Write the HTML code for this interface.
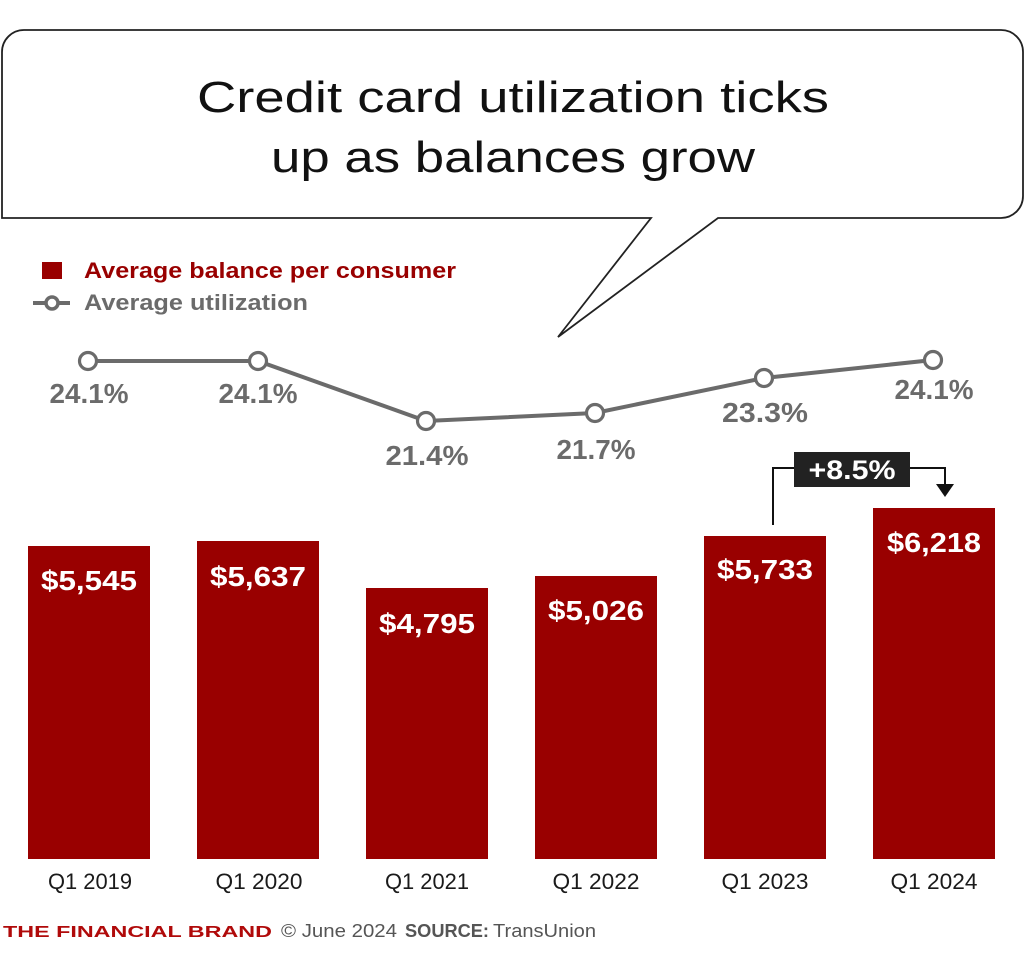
<!DOCTYPE html>
<html><head><meta charset="utf-8"><style>
html,body{margin:0;padding:0;background:#fff;}
svg{display:block;}
</style></head><body>
<svg width="1024" height="963" viewBox="0 0 1024 963" xmlns="http://www.w3.org/2000/svg" font-family="'Liberation Sans', sans-serif">
<rect width="1024" height="963" fill="#fff"/>
<!-- speech bubble -->
<path d="M24,30 H1001 A22,22 0 0 1 1023,52 V196 A22,22 0 0 1 1001,218 H718 L558,337 L651,218 H2 V52 A22,22 0 0 1 24,30 Z" fill="#fff" stroke="#222" stroke-width="1.8" stroke-linejoin="miter"/>
<text x="513" y="112" font-size="44" fill="#111" text-anchor="middle" textLength="632" lengthAdjust="spacingAndGlyphs">Credit card utilization ticks</text>
<text x="513" y="172" font-size="44" fill="#111" text-anchor="middle" textLength="484" lengthAdjust="spacingAndGlyphs">up as balances grow</text>
<!-- legend -->
<rect x="42" y="262" width="20" height="17" fill="#990000"/>
<text x="84" y="278" font-size="22" font-weight="bold" fill="#990000" textLength="372" lengthAdjust="spacingAndGlyphs">Average balance per consumer</text>
<line x1="33" y1="303" x2="70" y2="303" stroke="#6b6b6b" stroke-width="4"/>
<circle cx="52" cy="303" r="6" fill="#fff" stroke="#6b6b6b" stroke-width="3.5"/>
<text x="84" y="310" font-size="22" font-weight="bold" fill="#6b6b6b" textLength="224" lengthAdjust="spacingAndGlyphs">Average utilization</text>
<!-- bars -->
<g fill="#990000">
<rect x="28" y="546" width="122" height="313"/>
<rect x="197" y="541" width="122" height="318"/>
<rect x="366" y="588" width="122" height="271"/>
<rect x="535" y="576" width="122" height="283"/>
<rect x="704" y="536" width="122" height="323"/>
<rect x="873" y="508" width="122" height="351"/>
</g>
<g font-size="28" font-weight="bold" fill="#fff" text-anchor="middle">
<text x="89" y="590" textLength="96" lengthAdjust="spacingAndGlyphs">$5,545</text>
<text x="258" y="586" textLength="96" lengthAdjust="spacingAndGlyphs">$5,637</text>
<text x="427" y="633" textLength="96" lengthAdjust="spacingAndGlyphs">$4,795</text>
<text x="596" y="620" textLength="96" lengthAdjust="spacingAndGlyphs">$5,026</text>
<text x="765" y="579" textLength="96" lengthAdjust="spacingAndGlyphs">$5,733</text>
<text x="934" y="552" textLength="94" lengthAdjust="spacingAndGlyphs">$6,218</text>
</g>
<!-- line -->
<polyline points="88,361 258,361 426,421 595,413 764,378 933,360" fill="none" stroke="#6b6b6b" stroke-width="4"/>
<g fill="#fff" stroke="#6b6b6b" stroke-width="3.2">
<circle cx="88" cy="361" r="8.5"/>
<circle cx="258" cy="361" r="8.5"/>
<circle cx="426" cy="421" r="8.5"/>
<circle cx="595" cy="413" r="8.5"/>
<circle cx="764" cy="378" r="8.5"/>
<circle cx="933" cy="360" r="8.5"/>
</g>
<g font-size="28" font-weight="bold" fill="#6b6b6b" text-anchor="middle">
<text x="89" y="403" textLength="79" lengthAdjust="spacingAndGlyphs">24.1%</text>
<text x="258" y="403" textLength="79" lengthAdjust="spacingAndGlyphs">24.1%</text>
<text x="427" y="465" textLength="83" lengthAdjust="spacingAndGlyphs">21.4%</text>
<text x="596" y="459" textLength="79" lengthAdjust="spacingAndGlyphs">21.7%</text>
<text x="765" y="422" textLength="86" lengthAdjust="spacingAndGlyphs">23.3%</text>
<text x="934" y="399" textLength="79" lengthAdjust="spacingAndGlyphs">24.1%</text>
</g>
<!-- annotation -->
<polyline points="773,525 773,468 795,468" fill="none" stroke="#111" stroke-width="2"/>
<polyline points="909,468 945,468 945,486" fill="none" stroke="#111" stroke-width="2"/>
<polygon points="936,484 954,484 945,497" fill="#111"/>
<rect x="794" y="452" width="116" height="35" fill="#222"/>
<text x="852" y="479" font-size="27" font-weight="bold" fill="#fff" text-anchor="middle" textLength="87" lengthAdjust="spacingAndGlyphs">+8.5%</text>
<!-- x labels -->
<g font-size="22" fill="#1a1a1a" text-anchor="middle">
<text x="90" y="889" textLength="84" lengthAdjust="spacingAndGlyphs">Q1 2019</text>
<text x="259" y="889" textLength="87" lengthAdjust="spacingAndGlyphs">Q1 2020</text>
<text x="427" y="889" textLength="84" lengthAdjust="spacingAndGlyphs">Q1 2021</text>
<text x="596" y="889" textLength="87" lengthAdjust="spacingAndGlyphs">Q1 2022</text>
<text x="765" y="889" textLength="87" lengthAdjust="spacingAndGlyphs">Q1 2023</text>
<text x="934" y="889" textLength="87" lengthAdjust="spacingAndGlyphs">Q1 2024</text>
</g>
<!-- footer -->
<text x="3" y="937" font-size="16" font-weight="bold" fill="#b00a0a" textLength="269" lengthAdjust="spacingAndGlyphs">THE FINANCIAL BRAND</text>
<text x="281" y="937" font-size="18" fill="#555" textLength="116" lengthAdjust="spacingAndGlyphs">© June 2024</text>
<text x="405" y="937" font-size="18" font-weight="bold" fill="#555" textLength="84" lengthAdjust="spacingAndGlyphs">SOURCE:</text>
<text x="493" y="937" font-size="18" fill="#555" textLength="103" lengthAdjust="spacingAndGlyphs">TransUnion</text>
</svg>
</body></html>
